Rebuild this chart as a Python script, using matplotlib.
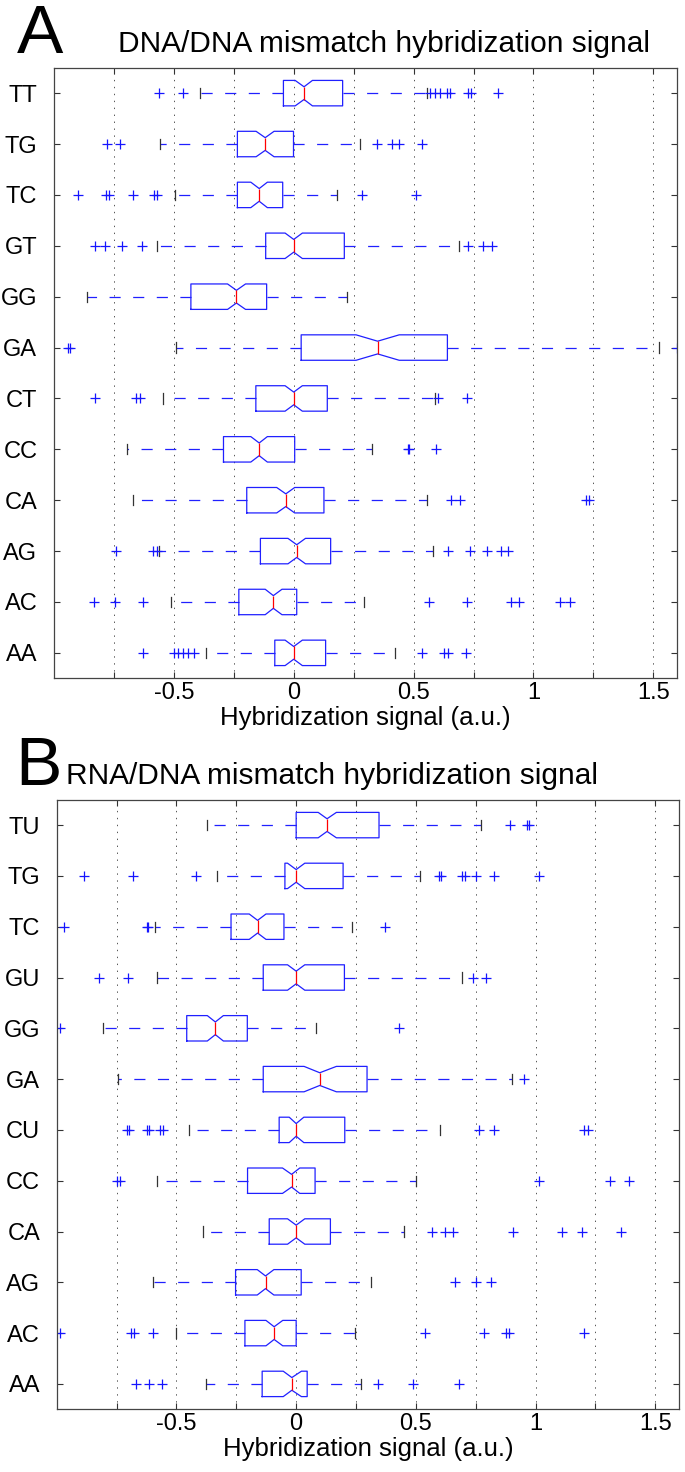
import matplotlib
matplotlib.use("Agg")
import matplotlib.pyplot as plt

plt.rcParams['font.family'] = ['Liberation Sans', 'DejaVu Sans']
plt.rcParams['axes.unicode_minus'] = False
plt.rcParams['lines.scale_dashes'] = False

# ---- panel A : DNA/DNA (listed top to bottom)
cats_dna = ['TT', 'TG', 'TC', 'GT', 'GG', 'GA', 'CT', 'CC', 'CA', 'AG', 'AC', 'AA']
lo_dna = [-0.389, -0.556, -0.496, -0.569, -0.863, -0.492, -0.546, -0.696, -0.672, -0.561, -0.513, -0.368]
q1_dna = [-0.043, -0.235, -0.235, -0.117, -0.429, 0.031, -0.158, -0.293, -0.196, -0.139, -0.229, -0.079]
med_dna = [0.043, -0.119, -0.144, 0.0, -0.239, 0.35, 0.0, -0.144, -0.033, 0.0125, -0.085, 0.0]
q3_dna = [0.204, -0.001, -0.046, 0.211, -0.113, 0.641, 0.14, 0.004, 0.126, 0.154, 0.0125, 0.133]
hi_dna = [0.554, 0.276, 0.182, 0.689, 0.221, 1.524, 0.589, 0.326, 0.555, 0.582, 0.294, 0.422]
cilo_dna = [0.006, -0.157, -0.179, -0.036, -0.276, 0.26, -0.036, -0.179, -0.071, -0.024, -0.119, -0.036]
cihi_dna = [0.078, -0.082, -0.11, 0.036, -0.201, 0.44, 0.036, -0.11, 0.004, 0.049, -0.049, 0.036]
out_dna = [
    [-0.56, -0.4625, 0.57, 0.59, 0.612, 0.64, 0.65, 0.726, 0.74, 0.853],
    [-0.779, -0.726, 0.346, 0.408, 0.44, 0.533],
    [-0.9, -0.782, -0.772, -0.671, -0.582, -0.571, 0.283, 0.51],
    [-0.828, -0.786, -0.717, -0.631, 0.727, 0.79, 0.825],
    [],
    [-0.942, -0.932, 1.6],
    [-0.83, -0.657, -0.64, 0.6, 0.723],
    [0.475, 0.48, 0.593],
    [0.658, 0.693, 1.221, 1.23],
    [-0.742, -0.5875, -0.571, 0.644, 0.735, 0.806, 0.864, 0.894],
    [-0.835, -0.744, -0.629, 0.565, 0.723, 0.908, 0.939, 1.11, 1.151],
    [-0.629, -0.501, -0.481, -0.46, -0.439, -0.418, 0.537, 0.626, 0.644, 0.72],
]

# ---- panel B : RNA/DNA
cats_rna = ['TU', 'TG', 'TC', 'GU', 'GG', 'GA', 'CU', 'CC', 'CA', 'AG', 'AC', 'AA']
lo_rna = [-0.374, -0.331, -0.589, -0.581, -0.808, -0.746, -0.446, -0.583, -0.389, -0.597, -0.503, -0.378]
q1_rna = [0.0, -0.047, -0.272, -0.1375, -0.457, -0.1375, -0.071, -0.203, -0.1125, -0.253, -0.214, -0.142]
med_rna = [0.129, 0.0, -0.161, 0.0, -0.3375, 0.0986, 0.0, -0.019, 0.0, -0.128, -0.092, -0.018]
q3_rna = [0.346, 0.196, -0.051, 0.2015, -0.204, 0.296, 0.203, 0.079, 0.143, 0.021, 0.0, 0.046]
hi_rna = [0.77, 0.518, 0.235, 0.693, 0.081, 0.901, 0.599, 0.502, 0.449, 0.311, 0.247, 0.272]
cilo_rna = [0.092, -0.036, -0.196, -0.036, -0.371, 0.033, -0.029, -0.057, -0.036, -0.1625, -0.126, -0.054]
cihi_rna = [0.168, 0.036, -0.126, 0.036, -0.304, 0.168, 0.032, 0.015, 0.036, -0.093, -0.056, 0.022]
out_rna = [
    [0.893, 0.963, 0.971],
    [-0.885, -0.683, -0.418, 0.596, 0.603, 0.693, 0.707, 0.751, 0.825, 1.015],
    [-0.971, -0.624, -0.617, 0.37],
    [-0.822, -0.704, 0.74, 0.793],
    [-0.9875, 0.429],
    [0.953],
    [-0.707, -0.696, -0.624, -0.613, -0.568, -0.557, 0.765, 0.828, 1.203, 1.217],
    [-0.749, -0.735, 1.015, 1.311, 1.39],
    [0.567, 0.62, 0.657, 0.904, 1.11, 1.193, 1.357],
    [0.665, 0.752, 0.814],
    [-0.985, -0.689, -0.679, -0.599, 0.54, 0.783, 0.876, 0.89, 1.2],
    [-0.668, -0.614, -0.561, 0.342, 0.49, 0.682],
]

xticks = [-0.75, -0.5, -0.25, 0, 0.25, 0.5, 0.75, 1, 1.25, 1.5]
xticklabels = ['', '-0.5', '', '0', '', '0.5', '', '1', '', '1.5']

W, H = 685, 1472
fig = plt.figure(figsize=(W / 100, H / 100), dpi=100)


def panel(rect, cats, lo, q1, med, q3, hi, cilo, cihi, out):
    ax = fig.add_axes(rect)
    n = len(cats)
    stats = []
    for i in range(n):
        stats.append(dict(whislo=lo[i], q1=q1[i], med=med[i], q3=q3[i], whishi=hi[i],
                          cilo=cilo[i], cihi=cihi[i], fliers=out[i]))
    pos = list(range(n, 0, -1))  # first category on top
    ax.bxp(stats, positions=pos, widths=0.5, capwidths=0.2, shownotches=True,
           orientation='horizontal', manage_ticks=False,
           boxprops=dict(color='#2020ff', lw=0.9),
           medianprops=dict(color='red', lw=0.9),
           whiskerprops=dict(color='#2020ff', lw=0.9, linestyle=(0, (8, 9))),
           capprops=dict(color='#333333', lw=0.9),
           flierprops=dict(marker='+', markeredgecolor='#1515ff', markersize=7,
                           markeredgewidth=0.9, linestyle='none'))
    ax.set_xlim(-1, 1.6)
    ax.set_ylim(0.5, n + 0.5)
    ax.set_xticks(xticks)
    ax.set_xticklabels(xticklabels)
    ax.set_yticks(pos)
    ax.set_yticklabels(cats)
    ax.xaxis.grid(True, linestyle=(0, (1, 4)), color='#555555', lw=0.7)
    ax.set_axisbelow(True)
    ax.tick_params(direction='in', length=4.5, width=0.8, top=True, right=True,
                   labelsize=17, colors='#333333', labelcolor='black')
    ax.tick_params(axis='y', pad=12)
    ax.tick_params(axis='x', pad=3)
    for s in ax.spines.values():
        s.set_color('#444444')
        s.set_linewidth(0.9)
    ax.set_xlabel('Hybridization signal (a.u.)', fontsize=18.5, labelpad=1)
    return ax


panel([54 / W, 1 - 678.3 / H, 623.3 / W, 610.6 / H],
      cats_dna, lo_dna, q1_dna, med_dna, q3_dna, hi_dna, cilo_dna, cihi_dna, out_dna)
panel([56.7 / W, 1 - 1409.3 / H, 622.6 / W, 609.6 / H],
      cats_rna, lo_rna, q1_rna, med_rna, q3_rna, hi_rna, cilo_rna, cihi_rna, out_rna)

# panel letters and titles
fig.text(17 / W, 1 - 53 / H, 'A', fontsize=50, va='baseline', ha='left')
fig.text(118 / W, 1 - 52.3 / H, 'DNA/DNA mismatch hybridization signal', fontsize=21.5,
         va='baseline', ha='left')
fig.text(15 / W, 1 - 785 / H, 'B', fontsize=50, va='baseline', ha='left')
fig.text(66 / W, 1 - 784.3 / H, 'RNA/DNA mismatch hybridization signal', fontsize=21.5,
         va='baseline', ha='left')

fig.savefig('out.png', dpi=100)
